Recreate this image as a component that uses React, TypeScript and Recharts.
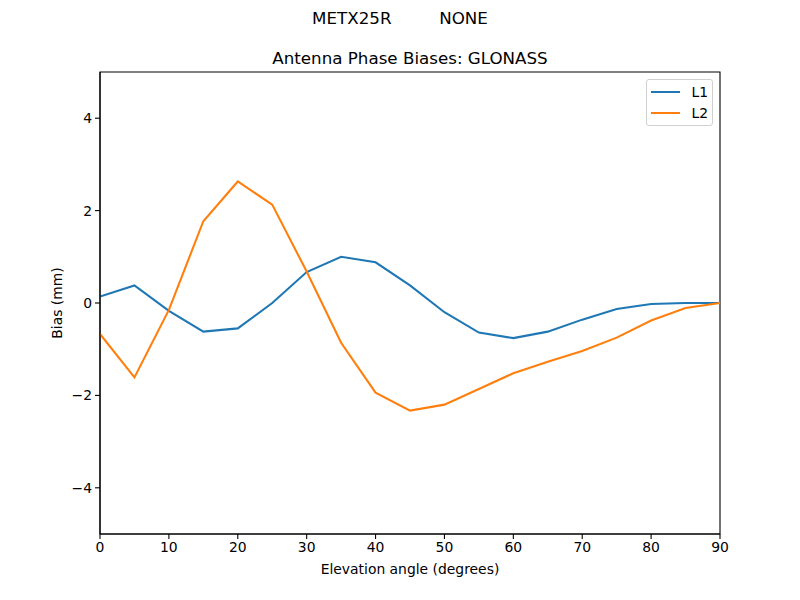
import React from 'react';
import { LineChart, Line, XAxis, YAxis, ReferenceArea } from 'recharts';

const elevations = [0, 5, 10, 15, 20, 25, 30, 35, 40, 45, 50, 55, 60, 65, 70, 75, 80, 85, 90];
const l1Values = [0.14, 0.38, -0.17, -0.62, -0.55, 0.0, 0.67, 1.0, 0.88, 0.38, -0.2, -0.64, -0.76, -0.62, -0.36, -0.13, -0.02, 0.0, 0.0];
const l2Values = [-0.67, -1.61, -0.15, 1.77, 2.63, 2.13, 0.68, -0.86, -1.94, -2.33, -2.2, -1.86, -1.52, -1.27, -1.04, -0.75, -0.38, -0.11, 0.0];
const xTicks = [0, 10, 20, 30, 40, 50, 60, 70, 80, 90];
const yTicks = [-4, -2, 0, 2, 4];
const seriesNames = ['L1', 'L2'];
const seriesColors = ['#1f77b4', '#ff7f0e'];

const data = elevations.map((e, i) => ({ elev: e, L1: l1Values[i], L2: l2Values[i] }));

const FONT = '"DejaVu Sans", sans-serif';
const fmt = (v: number) => String(v).replace('-', '\u2212');

const LegendBox = () => (
  <div
    style={{
      position: 'absolute',
      left: 646,
      top: 79,
      border: '1px solid #d0d0d0',
      borderRadius: 3,
      background: 'rgba(255,255,255,0.8)',
      padding: '1px 4px 2px 4px',
      fontFamily: FONT,
      fontSize: 13.9,
      width: 57,
      boxSizing: 'content-box',
    }}
  >
    {seriesNames.map((n, i) => (
      <div key={n} style={{ display: 'flex', alignItems: 'center', height: 21 }}>
        <svg width={30} height={4} style={{ marginRight: 11 }}>
          <line x1={0} y1={2} x2={30} y2={2} stroke={seriesColors[i]} strokeWidth={2} />
        </svg>
        <span style={{ color: '#000' }}>{n}</span>
      </div>
    ))}
  </div>
);

export default function App() {
  return (
    <div style={{ position: 'absolute', left: 0, top: 0, width: 800, height: 600, background: '#fff' }}>
      <LineChart
        width={800}
        height={600}
        data={data}
        margin={{ top: 72, right: 80, bottom: 0, left: 0 }}
        style={{ fontFamily: FONT }}
      >
        <XAxis
          dataKey="elev"
          type="number"
          domain={[0, 90]}
          ticks={xTicks}
          height={66}
          tickSize={5}
          tickMargin={3}
          tick={{ fill: '#000', fontSize: 13.9, fontFamily: FONT }}
          stroke="#000"
          axisLine={{ stroke: '#000', strokeWidth: 1.1 }}
          tickLine={{ stroke: '#000', strokeWidth: 1.1 }}
          allowDataOverflow
        />
        <YAxis
          type="number"
          domain={[-5, 5]}
          ticks={yTicks}
          width={100}
          tickSize={5}
          tickMargin={3}
          tickFormatter={fmt}
          tick={{ fill: '#000', fontSize: 13.9, fontFamily: FONT }}
          axisLine={{ stroke: '#000', strokeWidth: 1.1 }}
          tickLine={{ stroke: '#000', strokeWidth: 1.1 }}
          allowDataOverflow
        />
        <ReferenceArea x1={0} x2={90} y1={-5} y2={5} fill="none" stroke="#000" strokeWidth={1.1} ifOverflow="visible" />
        <Line type="linear" dataKey="L1" stroke={seriesColors[0]} strokeWidth={2.08} dot={false} isAnimationActive={false} />
        <Line type="linear" dataKey="L2" stroke={seriesColors[1]} strokeWidth={2.08} dot={false} isAnimationActive={false} />
      </LineChart>
      <LegendBox />
      <svg
        width={800}
        height={600}
        style={{ position: 'absolute', left: 0, top: 0, pointerEvents: 'none' }}
        fontFamily={FONT}
      >
        <text x={400} y={24} textAnchor="middle" fontSize={16.7} fill="#000" style={{ whiteSpace: 'pre' }}>
          {'METX25R         NONE'}
        </text>
        <text x={410} y={64} textAnchor="middle" fontSize={16.7} fill="#000">
          Antenna Phase Biases: GLONASS
        </text>
        <text x={410} y={574} textAnchor="middle" fontSize={13.9} fill="#000">
          Elevation angle (degrees)
        </text>
        <text x={62} y={303} textAnchor="middle" fontSize={13.9} fill="#000" transform="rotate(-90 62 303)">
          Bias (mm)
        </text>
      </svg>
    </div>
  );
}
